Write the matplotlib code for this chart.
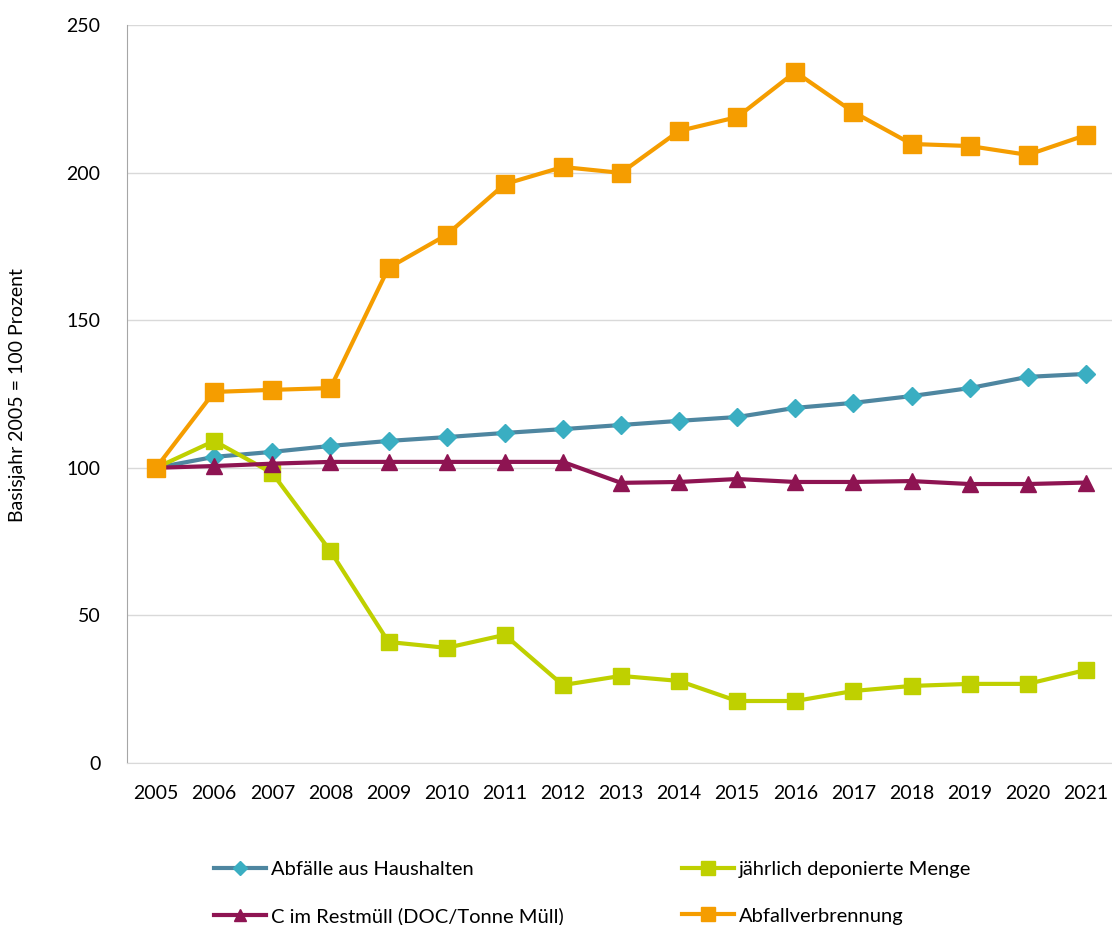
import matplotlib.pyplot as plt

plt.rcParams["font.family"] = ["Lato", "DejaVu Sans"]

years = [str(y) for y in range(2005, 2022)]

haushalte = [100, 103.7, 105.4, 107.4, 109.1, 110.4, 111.8, 113.1, 114.5,
             115.9, 117.2, 120.3, 122.0, 124.3, 127.0, 130.8, 131.8]
deponiert = [100, 109.1, 98.2, 71.8, 41.0, 39.0, 43.4, 26.4, 29.5,
             27.8, 21.0, 21.0, 24.4, 26.1, 26.8, 26.8, 31.5]
restmuell = [100, 100.6, 101.4, 102.0, 102.0, 102.0, 102.0, 102.0, 94.9,
             95.2, 96.2, 95.2, 95.2, 95.5, 94.5, 94.5, 95.0]
verbrennung = [100, 125.7, 126.4, 127.0, 167.7, 178.9, 196.1, 201.9, 199.9,
               214.1, 218.8, 234.1, 220.5, 209.7, 209.0, 206.0, 212.7]

fig = plt.figure(figsize=(11.12, 9.25), dpi=100)
ax = fig.add_axes([127 / 1112, 1 - 763 / 925, 1 - 127 / 1112, (763 - 25) / 925])

x = range(len(years))
h1, = ax.plot(x, haushalte, color="#4E86A0", lw=3, marker="D", ms=9,
              mfc="#3AAEC2", mec="#3AAEC2", label="Abfälle aus Haushalten")
h2, = ax.plot(x, deponiert, color="#BFD000", lw=3, marker="s", ms=12,
              label="jährlich deponierte Menge")
h3, = ax.plot(x, restmuell, color="#8E1452", lw=3, marker="^", ms=11,
              label="C im Restmüll (DOC/Tonne Müll)")
h4, = ax.plot(x, verbrennung, color="#F59D00", lw=3, marker="s", ms=13,
              label="Abfallverbrennung")

ax.set_xlim(-0.5, 16.45)
ax.set_ylim(0, 250)
ax.set_yticks(range(0, 251, 50))
ax.set_xticks(list(x))
ax.set_xticklabels(years)
ax.tick_params(axis="both", length=0, labelsize=14)
ax.tick_params(axis="x", pad=16)
ax.tick_params(axis="y", pad=19)
ax.yaxis.grid(True, color="#D9D9D9", lw=1)
ax.set_axisbelow(True)
for side in ["top", "right"]:
    ax.spines[side].set_visible(False)
ax.spines["left"].set_color("#A6A6A6")
ax.spines["bottom"].set_color("#D9D9D9")

fig.text(18 / 1112, 1 - 395 / 925, "Basisjahr 2005 = 100 Prozent",
         rotation=90, ha="center", va="center", fontsize=14)

fig.legend(handles=[h1, h3, h2, h4], ncol=2, loc="upper left",
           bbox_to_anchor=(196 / 1112, 1 - 843 / 925), frameon=False,
           fontsize=14.5, handlelength=2.6, handletextpad=0.2,
           columnspacing=5.9, labelspacing=1.45, markerscale=0.8)

fig.savefig("out.png", dpi=100)
